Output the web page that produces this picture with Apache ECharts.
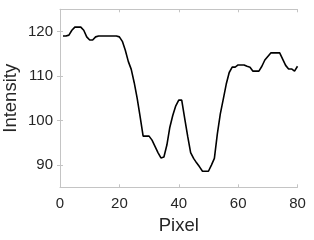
<!DOCTYPE html>
<html>
<head>
<meta charset="utf-8">
<script src="https://cdn.jsdelivr.net/npm/echarts@6/dist/echarts.min.js"></script>
<style>html,body{margin:0;padding:0;background:#fff}#c{width:314px;height:240px}</style>
</head>
<body>
<div id="c"></div>
<script>
var pixels = [1,2,3,4,5,6,7,8,9,10,11,12,13,14,15,16,17,18,19,20,21,22,23,24,25,26,27,28,29,30,31,32,33,34,35,36,37,38,39,40,41,42,43,44,45,46,47,48,49,50,51,52,53,54,55,56,57,58,59,60,61,62,63,64,65,66,67,68,69,70,71,72,73,74,75,76,77,78,79,80];
var intensity = [119,119,119.2,120.3,121,121,121,120.3,118.8,118.1,118.1,118.8,119,119,119,119,119,119,119,118.8,117.8,115.8,113.3,111.5,108.5,105,100.8,96.5,96.5,96.5,95.6,94.2,92.8,91.6,91.8,94.5,98.5,101.2,103.3,104.6,104.6,100.5,96.5,92.8,91.5,90.5,89.6,88.6,88.6,88.6,90,91.5,97,101.5,104.8,108.2,110.8,112,112,112.5,112.5,112.5,112.2,112,111.1,111.1,111.1,112.2,113.6,114.4,115.2,115.2,115.2,115.2,113.8,112.4,111.6,111.6,111.1,112.2];
var xTicks = [0,20,40,60,80];
var yTicks = [90,100,110,120];

var chart = echarts.init(document.getElementById('c'), null, {renderer:'canvas'});
var font = "'Liberation Sans', Arial, sans-serif";
var boxLine = {show:true, lineStyle:{color:'#c4c4c4', width:1}};
function tk(vals){ return {show:true, inside:true, length:3, customValues:vals, lineStyle:{color:'#c4c4c4'}}; }
chart.setOption({
  animation:false,
  grid:{left:60, right:16.5, top:9.3, bottom:52.7, containLabel:false, outerBoundsMode:'none'},
  xAxis:[{
    type:'value', min:0, max:80, interval:20,
    name:'Pixel', nameLocation:'middle', nameGap:29, nameMoveOverlap:false,
    nameTextStyle:{fontFamily:font, fontSize:18.5, color:'#262626'},
    axisLine:boxLine, axisTick:tk(xTicks), splitLine:{show:false},
    axisLabel:{fontFamily:font, fontSize:15, color:'#262626', margin:9, customValues:xTicks}
  },{
    type:'value', position:'top', min:0, max:80, interval:20,
    axisLine:boxLine, axisTick:tk(xTicks), axisLabel:{show:false}, splitLine:{show:false}
  }],
  yAxis:[{
    type:'value', min:85, max:125, interval:5,
    name:'Intensity', nameLocation:'middle', nameGap:40, nameMoveOverlap:false,
    nameTextStyle:{fontFamily:font, fontSize:18.5, color:'#262626'},
    axisLine:boxLine, axisTick:tk(yTicks), splitLine:{show:false},
    axisLabel:{fontFamily:font, fontSize:15, color:'#262626', margin:7, customValues:yTicks}
  },{
    type:'value', position:'right', min:85, max:125, interval:5,
    axisLine:boxLine, axisTick:tk(yTicks), axisLabel:{show:false}, splitLine:{show:false}
  }],
  series:[{
    type:'line', xAxisIndex:0, yAxisIndex:0,
    data:pixels.map(function(p,i){return [p,intensity[i]];}),
    showSymbol:false, symbol:'none',
    lineStyle:{color:'#000', width:1.6}
  }]
});
</script>
</body>
</html>
